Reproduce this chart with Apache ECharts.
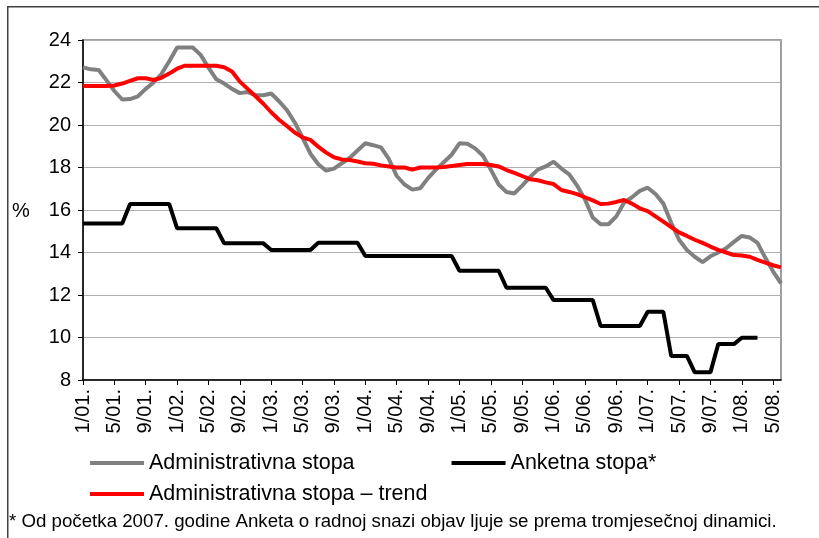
<!DOCTYPE html>
<html>
<head>
<meta charset="utf-8">
<script src="https://cdn.jsdelivr.net/npm/echarts@6/dist/echarts.min.js"></script>
<style>
html,body{margin:0;padding:0;background:#fff;}
#chart{width:819px;height:538px;}
</style>
</head>
<body>
<div id="chart"></div>
<script>
var categories = [
"1/01.","2/01.","3/01.","4/01.","5/01.","6/01.","7/01.","8/01.","9/01.","10/01.","11/01.","12/01.",
"1/02.","2/02.","3/02.","4/02.","5/02.","6/02.","7/02.","8/02.","9/02.","10/02.","11/02.","12/02.",
"1/03.","2/03.","3/03.","4/03.","5/03.","6/03.","7/03.","8/03.","9/03.","10/03.","11/03.","12/03.",
"1/04.","2/04.","3/04.","4/04.","5/04.","6/04.","7/04.","8/04.","9/04.","10/04.","11/04.","12/04.",
"1/05.","2/05.","3/05.","4/05.","5/05.","6/05.","7/05.","8/05.","9/05.","10/05.","11/05.","12/05.",
"1/06.","2/06.","3/06.","4/06.","5/06.","6/06.","7/06.","8/06.","9/06.","10/06.","11/06.","12/06.",
"1/07.","2/07.","3/07.","4/07.","5/07.","6/07.","7/07.","8/07.","9/07.","10/07.","11/07.","12/07.",
"1/08.","2/08.","3/08.","4/08.","5/08.","6/08."
];

var administrativna = [
22.71,22.62,22.59,22.1,21.6,21.2,21.22,21.35,21.7,22.0,22.4,23.0,
23.65,23.65,23.65,23.3,22.7,22.15,21.95,21.7,21.5,21.55,21.4,21.4,
21.48,21.12,20.7,20.12,19.4,18.65,18.15,17.85,17.95,18.2,18.45,18.8,
19.14,19.05,18.95,18.4,17.6,17.2,16.96,17.02,17.5,17.9,18.25,18.6,
19.14,19.12,18.9,18.55,17.9,17.2,16.85,16.78,17.15,17.55,17.9,18.05,
18.27,17.95,17.68,17.15,16.5,15.65,15.33,15.33,15.7,16.35,16.6,16.9,
17.05,16.75,16.3,15.4,14.6,14.12,13.8,13.55,13.82,14.0,14.2,14.5,
14.78,14.71,14.45,13.75,13.1,12.55
];

var anketna = [
15.37,15.37,15.37,15.37,15.37,15.37,16.28,16.28,16.28,16.28,16.28,16.28,
15.14,15.14,15.14,15.14,15.14,15.14,14.43,14.43,14.43,14.43,14.43,14.43,
14.12,14.12,14.12,14.12,14.12,14.12,14.46,14.46,14.46,14.46,14.46,14.46,
13.84,13.84,13.84,13.84,13.84,13.84,13.84,13.84,13.84,13.84,13.84,13.84,
13.14,13.14,13.14,13.14,13.14,13.14,12.34,12.34,12.34,12.34,12.34,12.34,
11.76,11.76,11.76,11.76,11.76,11.76,10.54,10.54,10.54,10.54,10.54,10.54,
11.21,11.21,11.21,9.13,9.13,9.13,8.36,8.36,8.36,9.69,9.69,9.69,
9.99,9.99,9.99,null,null,null
];

var trend = [
21.84,21.84,21.84,21.84,21.86,21.95,22.08,22.2,22.2,22.12,22.22,22.42,
22.65,22.79,22.79,22.79,22.79,22.79,22.72,22.52,22.04,21.7,21.35,21.0,
20.6,20.25,19.95,19.65,19.42,19.3,18.98,18.7,18.48,18.38,18.35,18.28,
18.2,18.18,18.1,18.05,18.0,18.0,17.9,18.0,18.0,18.0,18.02,18.07,
18.12,18.16,18.16,18.16,18.12,18.05,17.88,17.75,17.6,17.45,17.4,17.3,
17.22,16.94,16.85,16.75,16.6,16.45,16.28,16.3,16.38,16.47,16.3,16.08,
15.95,15.7,15.45,15.2,14.95,14.78,14.6,14.45,14.28,14.12,14.0,13.88,
13.86,13.8,13.65,13.52,13.4,13.3
];

var seriesNames = ["Administrativna stopa", "Anketna stopa*", "Administrativna stopa – trend"];
var footnote = "* Od početka 2007. godine Anketa o radnoj snazi objav ljuje se prema tromjesečnoj dinamici.";
var yUnit = "%";

var FONT = "Liberation Sans, Arial, sans-serif";
var chart = echarts.init(document.getElementById('chart'), null, {renderer: 'canvas'});

chart.setOption({
  animation: false,
  backgroundColor: '#ffffff',
  textStyle: {fontFamily: FONT, color: '#000'},
  grid: {
    left: 83, right: 38, top: 40, bottom: 158,
    show: true, borderColor: '#808080', borderWidth: 1.5, backgroundColor: 'transparent'
  },
  legend: [
    {
      data: [seriesNames[0], seriesNames[1]],
      left: 90, top: 452, padding: 0,
      icon: 'rect', itemWidth: 54, itemHeight: 4, itemGap: 97,
      textStyle: {fontFamily: FONT, fontSize: 21.5, color: '#000'},
      selectedMode: false
    },
    {
      data: [seriesNames[2]],
      left: 90, top: 483, padding: 0,
      icon: 'rect', itemWidth: 54, itemHeight: 4,
      textStyle: {fontFamily: FONT, fontSize: 21.5, color: '#000'},
      selectedMode: false
    }
  ],
  xAxis: {
    type: 'category',
    data: categories,
    boundaryGap: false,
    axisLine: {show: true, lineStyle: {color: '#000', width: 1.5}},
    axisTick: {show: true, interval: 3, length: 5, lineStyle: {color: '#000', width: 1}},
    axisLabel: {interval: 3, rotate: 90, margin: 9, fontSize: 20, color: '#000', fontFamily: FONT},
    splitLine: {show: false}
  },
  yAxis: {
    type: 'value',
    min: 8, max: 24, interval: 2,
    axisLine: {show: true, lineStyle: {color: '#000', width: 1.5}},
    axisTick: {show: true, length: 5, lineStyle: {color: '#000', width: 1}},
    axisLabel: {margin: 12, fontSize: 20, color: '#000', fontFamily: FONT},
    splitLine: {show: true, lineStyle: {color: '#b0b0b0', width: 1}}
  },
  series: [
    {
      name: seriesNames[0], type: 'line', data: administrativna,
      symbol: 'none', color: '#808080',
      lineStyle: {color: '#808080', width: 4}, z: 2
    },
    {
      name: seriesNames[1], type: 'line', data: anketna,
      symbol: 'none', color: '#000000', connectNulls: false,
      lineStyle: {color: '#000000', width: 4}, z: 3
    },
    {
      name: seriesNames[2], type: 'line', data: trend,
      symbol: 'none', color: '#ff0000',
      lineStyle: {color: '#ff0000', width: 4}, z: 4
    }
  ],
  graphic: [
    {
      type: 'rect', left: 7, top: 6, silent: true,
      shape: {x: 0, y: 0, width: 830, height: 560},
      style: {fill: 'transparent', stroke: '#404040', lineWidth: 1.5}
    },
    {
      type: 'text', left: 12, top: 201, silent: true,
      style: {text: yUnit, font: '20px ' + FONT, fill: '#000'}
    },
    {
      type: 'text', left: 9, top: 512, silent: true,
      style: {text: footnote, font: '18.7px ' + FONT, fill: '#000'}
    }
  ]
});
</script>
</body>
</html>
